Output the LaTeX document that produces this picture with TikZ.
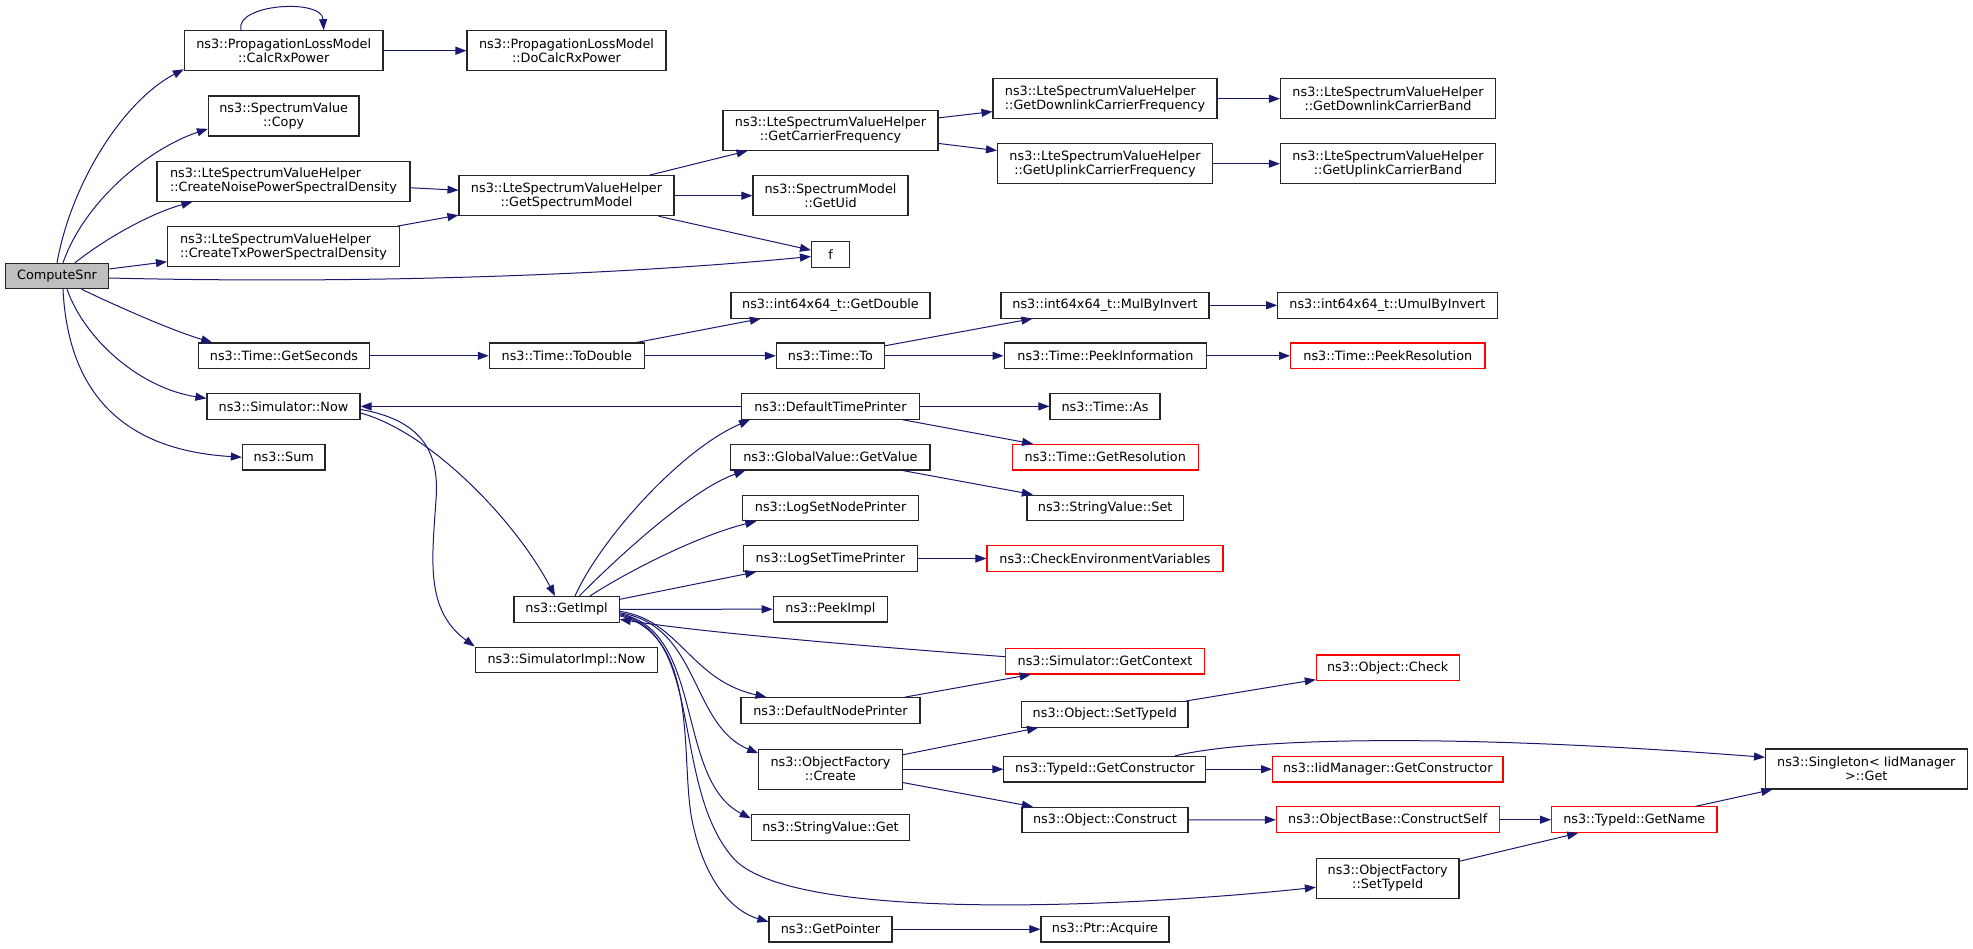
\documentclass[tikz,border=0pt]{standalone}
\usepackage{fontspec}
\newfontfamily\dvs{DejaVu Sans}
\usetikzlibrary{arrows.meta,calc}
\definecolor{edgeblue}{HTML}{191970}
\definecolor{nodered}{HTML}{FF0000}
\definecolor{snrgray}{HTML}{BFBFBF}
\begin{document}
\begin{tikzpicture}[x=1pt,y=-1pt,
  fn/.style={draw=black!85, line width=1.1pt, fill=white, rectangle, inner sep=0pt,
    font=\dvs\fontsize{12.8}{14}\selectfont, align=center, minimum height=25.6pt},
  two/.style={minimum height=40pt},
  rn/.style={fn, draw=nodered},
  edge/.style={draw=edgeblue, line width=1pt, -{Triangle[length=11pt,width=8pt]}},
]
\fill[white] (0,0) rectangle (1973,948);
\useasboundingbox (0,0) rectangle (1973,948);

% column 1
\node[fn, fill=snrgray, minimum width=103pt, minimum height=25.4pt] (snr) at (57,276) {ComputeSnr};
% column 2
\node[fn, two, minimum width=198.6pt] (calc) at (283.7,50.7) {ns3::PropagationLossModel\\::CalcRxPower};
\node[fn, two, minimum width=150.5pt] (copy) at (283.7,116) {ns3::SpectrumValue\\::Copy};
\node[fn, two, align=left, minimum width=253pt] (noise) at (283.5,181.3) {ns3::LteSpectrumValueHelper\\::CreateNoisePowerSpectralDensity};
\node[fn, two, align=left, minimum width=232pt] (tx) at (283.5,246.7) {ns3::LteSpectrumValueHelper\\::CreateTxPowerSpectralDensity};
\node[fn, minimum width=170.5pt] (getsec) at (284,355.8) {ns3::Time::GetSeconds};
\node[fn, minimum width=153pt] (simnow) at (283.5,406.4) {ns3::Simulator::Now};
\node[fn, minimum width=82.6pt] (sum) at (283.7,457.2) {ns3::Sum};
% column 3
\node[fn, two, minimum width=199pt] (docalc) at (566.5,50.7) {ns3::PropagationLossModel\\::DoCalcRxPower};
\node[fn, two, minimum width=215pt] (gsm) at (566.5,195.7) {ns3::LteSpectrumValueHelper\\::GetSpectrumModel};
\node[fn, minimum width=155pt] (todouble) at (566.8,355.8) {ns3::Time::ToDouble};
\node[fn, minimum width=105.3pt] (getimpl) at (566.6,609.3) {ns3::GetImpl};
\node[fn, minimum width=182.5pt] (simimplnow) at (566.5,659.9) {ns3::SimulatorImpl::Now};
% column 4
\node[fn, two, minimum width=215pt] (gcf) at (830.5,130.3) {ns3::LteSpectrumValueHelper\\::GetCarrierFrequency};
\node[fn, two, minimum width=155pt] (uid) at (830.5,195.7) {ns3::SpectrumModel\\::GetUid};
\node[fn, minimum width=38pt] (f) at (830.5,254.5) {f};
\node[fn, minimum width=199pt] (getdouble) at (830.5,305.3) {ns3::int64x64\_t::GetDouble};
\node[fn, minimum width=108pt] (timeto) at (830.4,355.8) {ns3::Time::To};
\node[fn, minimum width=177.7pt] (dtp) at (830.4,406.4) {ns3::DefaultTimePrinter};
\node[fn, minimum width=199.2pt] (getvalue) at (830.4,457.2) {ns3::GlobalValue::GetValue};
\node[fn, minimum width=175.4pt] (lsnp) at (830.6,507.9) {ns3::LogSetNodePrinter};
\node[fn, minimum width=173.3pt] (lstp) at (830.4,558.5) {ns3::LogSetTimePrinter};
\node[fn, minimum width=114.3pt] (peekimpl) at (830.4,609.2) {ns3::PeekImpl};
\node[fn, minimum width=179pt] (dnp) at (830.5,710.5) {ns3::DefaultNodePrinter};
\node[fn, two, minimum width=143.5pt] (create) at (830.5,769.2) {ns3::ObjectFactory\\::Create};
\node[fn, minimum width=158.4pt] (svget) at (830.5,827.7) {ns3::StringValue::Get};
\node[fn, minimum width=123pt] (getpointer) at (830.5,929.2) {ns3::GetPointer};
% column 5
\node[fn, two, align=left, minimum width=224pt] (dlcf) at (1105,98.7) {ns3::LteSpectrumValueHelper\\::GetDownlinkCarrierFrequency};
\node[fn, two, minimum width=215pt] (ulcf) at (1105,163.7) {ns3::LteSpectrumValueHelper\\::GetUplinkCarrierFrequency};
\node[fn, minimum width=208pt] (mulby) at (1105,305.3) {ns3::int64x64\_t::MulByInvert};
\node[fn, minimum width=202.7pt] (peekinfo) at (1105.4,355.8) {ns3::Time::PeekInformation};
\node[fn, minimum width=110pt] (timeas) at (1105,406.4) {ns3::Time::As};
\node[rn, minimum width=185.5pt] (getres) at (1105.3,457.2) {ns3::Time::GetResolution};
\node[fn, minimum width=156.4pt] (svset) at (1105.2,507.9) {ns3::StringValue::Set};
\node[rn, minimum width=236pt] (checkenv) at (1105,558.5) {ns3::CheckEnvironmentVariables};
\node[rn, minimum width=198.6pt] (getcontext) at (1105,661.2) {ns3::Simulator::GetContext};
\node[fn, minimum width=166.4pt] (objsettypeid) at (1104.8,714.4) {ns3::Object::SetTypeId};
\node[fn, minimum width=202pt] (getctor) at (1104.9,769.2) {ns3::TypeId::GetConstructor};
\node[fn, minimum width=166pt] (construct) at (1105,820) {ns3::Object::Construct};
\node[fn, minimum width=128pt] (acquire) at (1105,929.2) {ns3::Ptr::Acquire};
% column 6
\node[fn, two, minimum width=215pt] (dlcb) at (1388,98.7) {ns3::LteSpectrumValueHelper\\::GetDownlinkCarrierBand};
\node[fn, two, minimum width=215pt] (ulcb) at (1388,163.7) {ns3::LteSpectrumValueHelper\\::GetUplinkCarrierBand};
\node[fn, minimum width=219.3pt] (umulby) at (1387.4,305.3) {ns3::int64x64\_t::UmulByInvert};
\node[rn, minimum width=194.4pt] (peekres) at (1387.8,355.8) {ns3::Time::PeekResolution};
\node[rn, minimum width=142.7pt] (objcheck) at (1387.7,667.8) {ns3::Object::Check};
\node[rn, minimum width=230.4pt] (iidgetctor) at (1387.8,769.2) {ns3::IidManager::GetConstructor};
\node[rn, minimum width=222.7pt] (constructself) at (1387.7,819.7) {ns3::ObjectBase::ConstructSelf};
\node[fn, two, minimum width=142.6pt] (ofsettypeid) at (1387.7,878.3) {ns3::ObjectFactory\\::SetTypeId};
% column 7, 8
\node[rn, minimum width=165.4pt] (getname) at (1634.3,819.7) {ns3::TypeId::GetName};
\node[fn, two, minimum width=201.5pt] (singleton) at (1866.3,769) {ns3::Singleton< IidManager\\>::Get};

% edges from ComputeSnr
\draw[edge] (snr.north) .. controls (72,180) and (125,100) .. ([yshift=2pt]calc.south west);
\draw[edge] ([xshift=6pt]snr.north) .. controls (85,200) and (150,148) .. ([yshift=7.7pt]copy.south west);
\draw[edge] ([xshift=18pt]snr.north) .. controls (110,235) and (155,212) .. ([xshift=36pt]noise.south west);
\draw[edge] ([yshift=7pt]snr.east) -- ([yshift=-15pt]tx.west);
\draw[edge] ([yshift=-2pt]snr.east) .. controls (400,285) and (650,272) .. ([yshift=-2pt]f.west);
\draw[edge] ([xshift=24.7pt]snr.south) .. controls (110,303) and (170,330) .. ([xshift=14pt]getsec.north west);
\draw[edge] ([xshift=10pt]snr.south) .. controls (85,340) and (140,388) .. ([yshift=8pt]simnow.west);
\draw[edge] ([xshift=6pt]snr.south) .. controls (68,390) and (120,450) .. (sum.west);

% propagation
\draw[edge] ([xshift=-42.7pt]calc.north) .. controls (234,4) and (322,-2) .. ([xshift=40pt]calc.north);
\draw[edge] (calc) -- (docalc);

% spectrum
\draw[edge] (noise) -- (gsm);
\draw[edge] (tx) -- (gsm);
\draw[edge] (gsm) -- (gcf);
\draw[edge] (gsm) -- (uid);
\draw[edge] (gsm) -- (f);
\draw[edge] (gcf) -- (dlcf);
\draw[edge] (gcf) -- (ulcf);
\draw[edge] (dlcf) -- (dlcb);
\draw[edge] (ulcf) -- (ulcb);

% time
\draw[edge] (getsec) -- (todouble);
\draw[edge] (todouble) -- (getdouble);
\draw[edge] (todouble) -- (timeto);
\draw[edge] (timeto) -- (mulby);
\draw[edge] (timeto) -- (peekinfo);
\draw[edge] (mulby) -- (umulby);
\draw[edge] (peekinfo) -- (peekres);
\draw[edge] (dtp) -- (simnow);
\draw[edge] (dtp) -- (timeas);
\draw[edge] (dtp) -- (getres);
\draw[edge] (getvalue) -- (svset);
\draw[edge] (lstp) -- (checkenv);

% simulator now
\draw[edge] ([yshift=-6.6pt]simnow.east) .. controls (430,432) and (515,520) .. ([xshift=-11.6pt]getimpl.north);
\draw[edge] ([yshift=-3pt]simnow.east) .. controls (420,420) and (440,450) .. (436,500)
  .. controls (432,560) and (425,610) .. (simimplnow.north west);

% getimpl fan-out
\draw[edge] ([xshift=8.4pt]getimpl.north) .. controls (600,540) and (680,450) .. ([xshift=9pt]dtp.south west);
\draw[edge] ([xshift=12.7pt]getimpl.north) .. controls (615,560) and (690,490) .. ([xshift=15pt]getvalue.south west);
\draw[edge] ([xshift=23.4pt]getimpl.north) .. controls (630,570) and (700,535) .. ([xshift=14pt]lsnp.south west);
\draw[edge] ([yshift=10pt]getimpl.east) -- ([xshift=13pt]lstp.south west);
\draw[edge] (getimpl) -- (peekimpl);
\draw[edge] ([yshift=4.5pt]getcontext.west) .. controls (850,645) and (700,632) .. ([yshift=-10pt]getimpl.east);
\draw[edge] ([yshift=-2pt]getimpl.east) .. controls (680,620) and (690,680) .. ([xshift=26pt]dnp.north west);
\draw[edge] ([yshift=-3.5pt]getimpl.east) .. controls (700,625) and (690,725) .. ([yshift=16pt]create.west);
\draw[edge] ([yshift=-4.5pt]getimpl.east) .. controls (705,630) and (675,780) .. ([yshift=9.4pt]svget.west);
\draw[edge] ([yshift=-5.5pt]getimpl.east) .. controls (705,632) and (670,790) .. (735,860)
  .. controls (800,925) and (1150,905) .. ([yshift=-9pt]ofsettypeid.west);
\draw[edge] ([yshift=-6.5pt]getimpl.east) .. controls (700,635) and (680,760) .. (692,820)
  .. controls (705,885) and (735,912) .. ([yshift=7.5pt]getpointer.west);

% object side
\draw[edge] (dnp) -- (getcontext);
\draw[edge] (getpointer) -- (acquire);
\draw[edge] (create) -- (objsettypeid);
\draw[edge] (create) -- (getctor);
\draw[edge] (create) -- (construct);
\draw[edge] (objsettypeid) -- (objcheck);
\draw[edge] ([xshift=70pt]getctor.north) .. controls (1250,738) and (1450,733) .. ([yshift=11.7pt]singleton.west);
\draw[edge] (getctor) -- (iidgetctor);
\draw[edge] (construct) -- (constructself);
\draw[edge] (constructself) -- (getname);
\draw[edge] (ofsettypeid) -- (getname);
\draw[edge] (getname) -- (singleton);
\end{tikzpicture}
\end{document}
